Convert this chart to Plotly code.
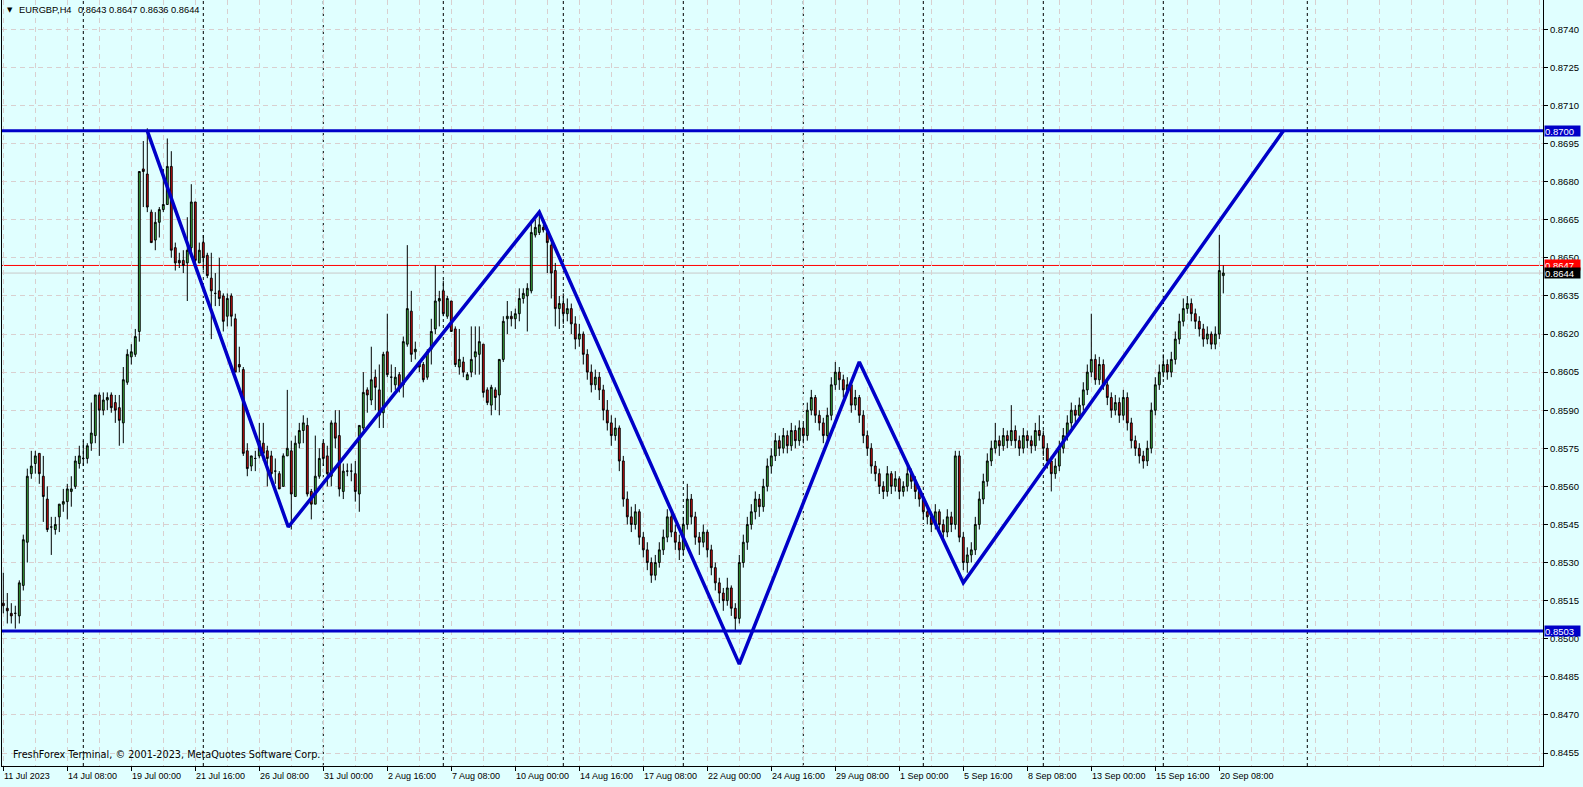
import plotly.graph_objects as go

opens = [
.8514,.8512,.8510,.8510,.8509,.8521,.8538,.8565,.8569,.8573,
.8564,.8555,.8544,.8543,.8548,.8553,.8554,.8558,.8560,.8569,
.8571,.8571,.8577,.8580,.8596,.8590,.8594,.8596,.8593,.8591,
.8585,.8601,.8611,.8612,.8621,.8685,.8683,.8668,.8657,.8664,
.8669,.8671,.8686,.8654,.8649,.8649,.8648,.8654,.8672,.8648,
.8656,.8651,.8642,.8636,.8637,.8635,.8627,.8635,.8626,.8608,
.8606,.8574,.8568,.8571,.8572,.8577,.8574,.8572,.8566,.8565,
.8560,.8572,.8574,.8556,.8577,.8582,.8584,.8558,.8553,.8564,
.8577,.8572,.8564,.8585,.8580,.8558,.8566,.8566,.8565,.8557,
.8583,.8598,.8594,.8603,.8598,.8589,.8613,.8603,.8600,.8604,
.8600,.8616,.8629,.8613,.8609,.8608,.8603,.8614,.8622,.8633,
.8637,.8627,.8633,.8622,.8607,.8609,.8602,.8605,.8611,.8612,
.8616,.8598,.8592,.8598,.8596,.8610,.8626,.8627,.8626,.8628,
.8634,.8635,.8637,.8659,.8660,.8662,.8660,.8655,.8645,
.8630,.8632,.8628,.8630,.8624,.8618,.8620,.8612,.8605,.8600,
.8603,.8598,.8590,.8585,.8580,.8583,.8570,.8555,.8548,.8545,
.8550,.8540,.8535,.8530,.8525,.8530,.8535,.8540,.8548,.8542,
.8538,.8535,.8545,.8555,.8548,.8540,.8538,.8542,.8535,.8528,
.8522,.8518,.8515,.8520,.8512,.8508,.8530,.8538,.8545,.8550,
.8555,.8552,.8560,.8568,.8572,.8578,.8575,.8580,.8576,.8582,
.8578,.8583,.8580,.8590,.8595,.8588,.8585,.8580,.8588,.8600,
.8605,.8602,.8598,.8600,.8592,.8595,.8588,.8580,.8575,.8568,
.8565,.8560,.8558,.8565,.8560,.8563,.8558,.8560,.8565,.8562,
.8558,.8555,.8550,.8548,.8545,.8550,.8545,.8542,.8548,.8545,
.8572,.8540,.8530,.8533,.8535,.8545,.8555,.8562,.8570,.8575,
.8578,.8576,.8580,.8578,.8582,.8578,.8575,.8580,.8578,.8576,
.8582,.8580,.8575,.8570,.8565,.8568,.8575,.8580,.8585,.8590,
.8588,.8592,.8598,.8605,.8610,.8602,.8608,.8600,.8595,.8590,
.8593,.8588,.8595,.8585,.8578,.8575,.8572,.8570,.8575,.8590,
.8600,.8605,.8608,.8605,.8610,.8618,.8625,.8630,.8632,.8628,
.8625,.8622,.8618,.8620,.8616,.8620,.8643]

highs = [
.8526,.8518,.8514,.8513,.8523,.8541,.8567,.8574,.8574,.8573,
.8572,.8560,.8548,.8548,.8553,.8559,.8561,.8564,.8572,.8576,
.8578,.8577,.8593,.8596,.8597,.8597,.8597,.8597,.8596,.8596,
.8607,.8614,.8616,.8622,.8684,.8696,.8701,.8669,.8668,.8670,
.8685,.8697,.8692,.8656,.8652,.8653,.8666,.8679,.8672,.8656,
.8659,.8652,.8652,.8644,.8650,.8636,.8636,.8636,.8628,.8615,
.8607,.8577,.8572,.8574,.8585,.8585,.8576,.8574,.8571,.8566,
.8573,.8598,.8578,.8580,.8585,.8588,.8587,.8559,.8580,.8575,
.8578,.8576,.8586,.8590,.8590,.8569,.8569,.8569,.8570,.8584,
.8605,.8599,.8615,.8606,.8608,.8613,.8628,.8608,.8607,.8605,
.8619,.8655,.8637,.8617,.8609,.8609,.8614,.8626,.8647,.8637,
.8641,.8635,.8633,.8623,.8622,.8611,.8605,.8623,.8623,.8623,
.8616,.8599,.8600,.8599,.8610,.8627,.8633,.8629,.8630,.8638,
.8638,.8640,.8665,.8665,.8668,.8663,.8662,.8656,.8648,
.8635,.8636,.8634,.8632,.8627,.8624,.8621,.8614,.8608,.8606,
.8605,.8600,.8594,.8588,.8587,.8584,.8572,.8558,.8552,.8553,
.8551,.8542,.8538,.8532,.8533,.8538,.8543,.8551,.8550,.8545,
.8541,.8548,.8561,.8557,.8550,.8542,.8545,.8543,.8537,.8530,
.8524,.8520,.8524,.8521,.8514,.8533,.8541,.8548,.8553,.8558,
.8557,.8563,.8571,.8575,.8581,.8580,.8583,.8582,.8585,.8584,
.8586,.8585,.8593,.8598,.8596,.8590,.8587,.8591,.8603,.8609,
.8607,.8604,.8603,.8601,.8598,.8596,.8590,.8582,.8577,.8570,
.8567,.8562,.8568,.8566,.8566,.8564,.8562,.8568,.8567,.8564,
.8560,.8557,.8552,.8550,.8553,.8551,.8547,.8551,.8550,.8574,
.8574,.8542,.8536,.8538,.8548,.8558,.8565,.8573,.8578,.8585,
.8580,.8583,.8582,.8592,.8584,.8580,.8583,.8582,.8580,.8585,
.8588,.8582,.8577,.8572,.8571,.8578,.8583,.8588,.8593,.8592,
.8595,.8601,.8608,.8628,.8612,.8611,.8610,.8602,.8597,.8596,
.8595,.8598,.8597,.8587,.8580,.8577,.8574,.8578,.8593,.8603,
.8608,.8612,.8610,.8613,.8621,.8628,.8634,.8635,.8634,.8630,
.8627,.8624,.8623,.8621,.8623,.8659,.8647]

lows = [
.8510,.8506,.8506,.8504,.8506,.8519,.8530,.8563,.8565,.8561,
.8546,.8542,.8533,.8541,.8542,.8550,.8547,.8552,.8559,.8567,
.8568,.8569,.8574,.8577,.8572,.8588,.8590,.8589,.8585,.8576,
.8577,.8600,.8608,.8611,.8617,.8670,.8668,.8656,.8653,.8658,
.8668,.8671,.8650,.8645,.8646,.8644,.8633,.8650,.8648,.8648,
.8645,.8642,.8618,.8631,.8631,.8621,.8623,.8623,.8605,.8605,
.8572,.8564,.8566,.8566,.8571,.8570,.8560,.8564,.8561,.8559,
.8560,.8572,.8543,.8556,.8575,.8577,.8556,.8547,.8553,.8563,
.8568,.8560,.8560,.8575,.8556,.8555,.8564,.8562,.8554,.8550,
.8582,.8589,.8592,.8590,.8583,.8583,.8603,.8597,.8598,.8597,
.8595,.8615,.8609,.8610,.8605,.8601,.8602,.8608,.8620,.8623,
.8627,.8626,.8621,.8607,.8604,.8603,.8602,.8603,.8604,.8604,
.8595,.8592,.8588,.8590,.8588,.8609,.8620,.8623,.8622,.8625,
.8632,.8621,.8636,.8658,.8659,.8660,.8644,.8634,.8623,
.8622,.8624,.8625,.8620,.8614,.8615,.8608,.8602,.8597,.8598,
.8594,.8586,.8582,.8576,.8578,.8566,.8552,.8545,.8542,.8543,
.8537,.8532,.8527,.8522,.8523,.8528,.8533,.8538,.8540,.8535,
.8531,.8533,.8543,.8545,.8537,.8533,.8536,.8532,.8525,.8519,
.8514,.8511,.8513,.8509,.8503,.8506,.8528,.8535,.8543,.8547,
.8548,.8550,.8558,.8565,.8570,.8572,.8573,.8573,.8574,.8575,
.8576,.8577,.8578,.8588,.8585,.8582,.8577,.8578,.8586,.8598,
.8598,.8595,.8596,.8589,.8590,.8585,.8577,.8572,.8565,.8562,
.8557,.8555,.8556,.8557,.8558,.8555,.8556,.8558,.8559,.8555,
.8552,.8547,.8545,.8542,.8543,.8542,.8539,.8540,.8542,.8543,
.8538,.8527,.8526,.8530,.8533,.8543,.8553,.8560,.8568,.8573,
.8572,.8574,.8575,.8576,.8575,.8572,.8573,.8575,.8573,.8574,
.8578,.8572,.8567,.8558,.8563,.8566,.8573,.8578,.8583,.8585,
.8586,.8590,.8596,.8603,.8600,.8600,.8598,.8592,.8587,.8588,
.8585,.8586,.8582,.8575,.8572,.8569,.8567,.8568,.8573,.8588,
.8598,.8603,.8602,.8603,.8608,.8616,.8623,.8628,.8625,.8622,
.8619,.8615,.8616,.8614,.8614,.8618,.8636]

closes = [
.8513,.8511,.8509,.8510,.8522,.8539,.8564,.8568,.8572,.8565,
.8556,.8543,.8544,.8545,.8553,.8554,.8559,.8559,.8570,.8572,
.8571,.8576,.8581,.8596,.8590,.8594,.8595,.8591,.8590,.8586,
.8602,.8612,.8613,.8619,.8684,.8684,.8670,.8656,.8664,.8669,
.8671,.8686,.8653,.8648,.8648,.8647,.8653,.8672,.8649,.8653,
.8650,.8643,.8637,.8636,.8634,.8625,.8634,.8627,.8605,.8607,
.8573,.8567,.8572,.8571,.8578,.8573,.8571,.8565,.8566,.8559,
.8572,.8575,.8557,.8577,.8582,.8585,.8557,.8553,.8564,.8571,
.8571,.8565,.8585,.8579,.8559,.8566,.8566,.8566,.8558,.8584,
.8597,.8596,.8602,.8599,.8588,.8612,.8604,.8603,.8603,.8599,
.8617,.8630,.8612,.8614,.8607,.8602,.8613,.8621,.8633,.8634,
.8628,.8634,.8621,.8608,.8610,.8605,.8604,.8610,.8613,.8617,
.8597,.8593,.8599,.8595,.8610,.8625,.8627,.8626,.8628,.8634,
.8636,.8638,.8660,.8662,.8663,.8661,.8656,.8644,.8630,
.8632,.8628,.8630,.8624,.8618,.8620,.8612,.8605,.8600,.8603,
.8598,.8590,.8585,.8580,.8583,.8570,.8555,.8548,.8545,.8550,
.8540,.8535,.8530,.8525,.8530,.8535,.8540,.8548,.8542,.8538,
.8535,.8545,.8555,.8548,.8540,.8538,.8542,.8535,.8528,.8522,
.8518,.8515,.8520,.8512,.8508,.8530,.8538,.8545,.8550,.8555,
.8552,.8560,.8568,.8572,.8578,.8575,.8580,.8576,.8582,.8578,
.8583,.8580,.8590,.8595,.8588,.8585,.8580,.8588,.8600,.8605,
.8602,.8598,.8600,.8592,.8595,.8588,.8580,.8575,.8568,.8565,
.8560,.8558,.8565,.8560,.8563,.8558,.8560,.8565,.8562,.8558,
.8555,.8550,.8548,.8545,.8550,.8545,.8542,.8548,.8545,.8572,
.8540,.8530,.8533,.8535,.8545,.8555,.8562,.8570,.8575,.8578,
.8576,.8580,.8578,.8582,.8578,.8575,.8580,.8578,.8576,.8582,
.8580,.8575,.8570,.8565,.8568,.8575,.8580,.8585,.8590,.8588,
.8592,.8598,.8605,.8610,.8602,.8608,.8600,.8595,.8590,.8593,
.8588,.8595,.8585,.8578,.8575,.8572,.8570,.8575,.8590,.8600,
.8605,.8608,.8605,.8610,.8618,.8625,.8630,.8632,.8628,.8625,
.8622,.8618,.8620,.8616,.8620,.8645,.8644]

time_labels = ["11 Jul 2023", "14 Jul 08:00", "19 Jul 00:00", "21 Jul 16:00", "26 Jul 08:00",
               "31 Jul 00:00", "2 Aug 16:00", "7 Aug 08:00", "10 Aug 00:00", "14 Aug 16:00",
               "17 Aug 08:00", "22 Aug 00:00", "24 Aug 16:00", "29 Aug 08:00", "1 Sep 00:00",
               "5 Sep 16:00", "8 Sep 08:00", "13 Sep 00:00", "15 Sep 16:00", "20 Sep 08:00"]
bars_per_label = 16
week_start_bars = [20, 50, 80, 110, 140, 170, 200, 230, 260, 290, 326]

price_ticks = [0.8455, 0.8470, 0.8485, 0.8500, 0.8515, 0.8530, 0.8545, 0.8560, 0.8575, 0.8590,
               0.8605, 0.8620, 0.8635, 0.8650, 0.8665, 0.8680, 0.8695, 0.8710, 0.8725, 0.8740]

zigzag_bars = [36, 71.25, 134, 184, 214, 240, 320]
zigzag_prices = [0.8700, 0.8544, 0.8668, 0.8490, 0.8609, 0.8522, 0.8700]
resistance = 0.8700
support = 0.8503
ask_price = 0.8647
bid_price = 0.8644
header = "EURGBP,H4"
header_ohlc = "0.8643 0.8647 0.8636 0.8644"
copyright_text = "FreshForex Terminal, © 2001-2023, MetaQuotes Software Corp."

W, H = 1583, 787
ML, MR, MT, MB = 2, 40, 0, 21
PX_PER_BAR = 4.0
X0_PX = 3.3
plot_w = W - ML - MR
x_left = (ML - X0_PX) / PX_PER_BAR
x_right = x_left + plot_w / PX_PER_BAR
y_range = [0.844988, 0.875154]

BG = "#E0FFFF"
GRID = "#d9cfcf"
BLUE = "#0000C8"
FONT = "Liberation Sans, Arial, sans-serif"
FONT_WIDE = "DejaVu Sans, sans-serif"

xs = list(range(len(opens)))

fig = go.Figure()
fig.add_trace(go.Candlestick(
    x=xs, open=opens, high=highs, low=lows, close=closes,
    increasing=dict(line=dict(color="black", width=1), fillcolor="#3fba3f"),
    decreasing=dict(line=dict(color="black", width=1), fillcolor="#dd1010"),
    whiskerwidth=0, hoverinfo="skip", showlegend=False))

fig.add_trace(go.Scatter(x=zigzag_bars, y=zigzag_prices, mode="lines",
                         line=dict(color=BLUE, width=3.5), hoverinfo="skip", showlegend=False))

shapes = []
for b in week_start_bars:
    shapes.append(dict(type="line", xref="x", yref="paper", x0=b, x1=b, y0=0, y1=1,
                       line=dict(color="black", width=1, dash="3px,3px"), layer="below"))
for lvl, col, wd in [(bid_price, "#c8c8c8", 1), (ask_price, "#ff0000", 1)]:
    shapes.append(dict(type="line", xref="paper", yref="y", x0=0, x1=1, y0=lvl, y1=lvl,
                       line=dict(color=col, width=wd), layer="below"))
for lvl in [resistance, support]:
    shapes.append(dict(type="line", xref="paper", yref="y", x0=0, x1=1, y0=lvl, y1=lvl,
                       line=dict(color=BLUE, width=3), layer="above"))

annotations = []
for i, t in enumerate(time_labels):
    annotations.append(dict(x=i * bars_per_label, xref="x", y=0, yref="paper", text=t,
                            xanchor="left", yanchor="top", yshift=-3, xshift=-1, showarrow=False,
                            font=dict(family=FONT, size=9, color="black")))
annotations.append(dict(x=0, xref="paper", y=0, yref="paper", xanchor="left", yanchor="bottom",
                        xshift=9, yshift=4, showarrow=False, text=copyright_text,
                        font=dict(family=FONT_WIDE, size=9.7, color="black")))
annotations.append(dict(x=0, xref="paper", y=1, yref="paper", xanchor="left", yanchor="middle",
                        xshift=3, yshift=-10, showarrow=False, text="▼",
                        font=dict(family="DejaVu Sans", size=7, color="black")))
annotations.append(dict(x=0, xref="paper", y=1, yref="paper", xanchor="left", yanchor="middle",
                        xshift=15, yshift=-10, showarrow=False, text=header,
                        font=dict(family=FONT, size=9.3, color="black")))
annotations.append(dict(x=0, xref="paper", y=1, yref="paper", xanchor="left", yanchor="middle",
                        xshift=74, yshift=-10, showarrow=False, text=header_ohlc,
                        font=dict(family=FONT, size=9.3, color="black")))
for lvl, bg in [(resistance, BLUE), (support, BLUE), (ask_price, "#ff0000"), (bid_price, "#000000")]:
    annotations.append(dict(x=1, xref="paper", y=lvl, yref="y", xanchor="left", yanchor="middle",
                            xshift=1, showarrow=False, text=f"{lvl:.4f}", bgcolor=bg,
                            width=35, height=10, align="left", borderpad=0,
                            font=dict(family=FONT, size=9.5, color="white")))

fig.update_layout(
    width=W, height=H, margin=dict(l=ML, r=MR, t=MT, b=MB, pad=0),
    paper_bgcolor=BG, plot_bgcolor=BG, boxgap=0.35,
    shapes=shapes, annotations=annotations, showlegend=False,
    xaxis=dict(range=[x_left, x_right], rangeslider=dict(visible=False),
               tickmode="array", tickvals=[i * bars_per_label for i in range(len(time_labels))],
               showticklabels=False, ticks="outside", ticklen=4, tickcolor="black", tickwidth=1,
               showgrid=True, gridcolor=GRID, griddash="5px,4px", gridwidth=1,
               minor=dict(tickmode="linear", tick0=0, dtick=8, showgrid=True, gridcolor=GRID,
                          griddash="5px,4px", ticks=""),
               showline=True, linecolor="black", linewidth=1, zeroline=False, fixedrange=True),
    yaxis=dict(range=y_range, side="right", tickmode="array", tickvals=price_ticks,
               ticktext=[f"{v:.4f}" for v in price_ticks], ticks="outside", ticklen=4,
               tickcolor="black", tickfont=dict(family=FONT, size=9.5, color="black"),
               showgrid=True, gridcolor=GRID, griddash="5px,4px", gridwidth=1,
               showline=True, linecolor="black", linewidth=1, mirror=True, zeroline=False,
               fixedrange=True),
)

fig.write_html("out.html", config={"displayModeBar": False},
               post_script="document.body.style.margin='0';document.body.style.overflow='hidden';")
